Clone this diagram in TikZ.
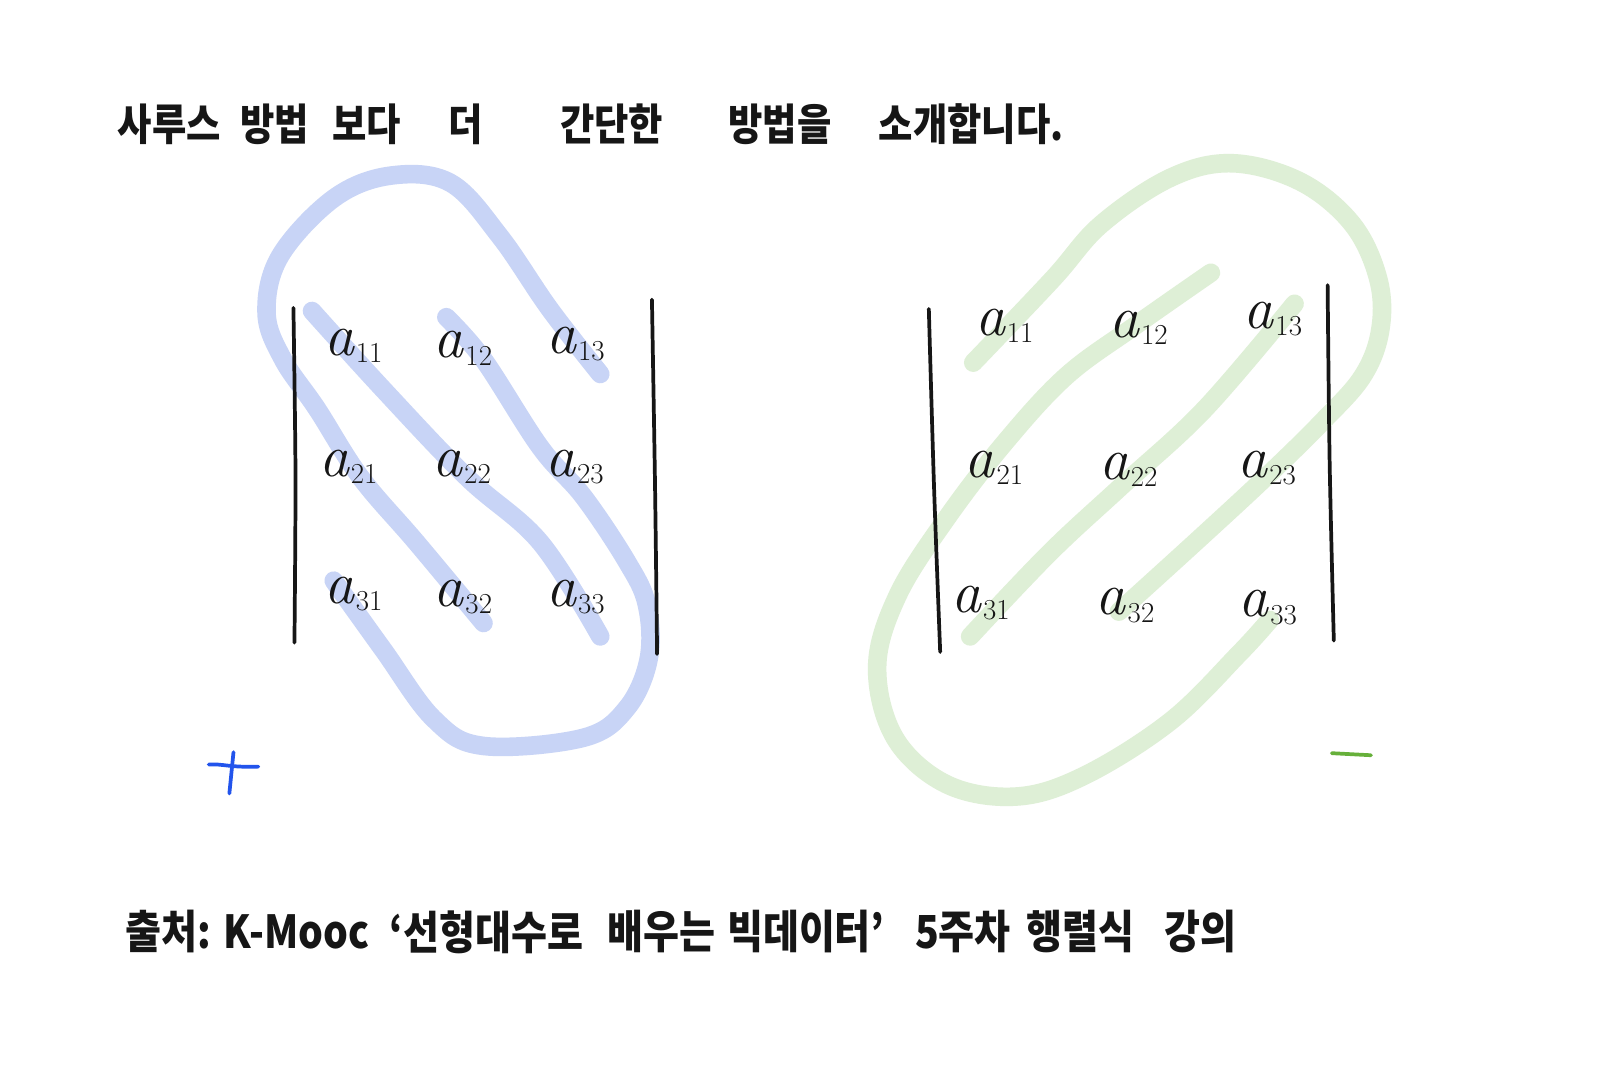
\documentclass[tikz,border=0pt]{standalone}
\usepackage{fontspec}
\newfontfamily\kr[FakeStretch=0.86]{Noto Sans CJK KR}
\definecolor{ink}{RGB}{22,22,22}
\definecolor{hlb}{RGB}{200,212,246}
\definecolor{hlg}{RGB}{222,239,214}
\definecolor{plusblue}{RGB}{34,84,236}
\definecolor{minusgreen}{RGB}{102,176,58}
\newcommand{\ent}[1]{\fontsize{58}{60}\selectfont\textit{a}\kern1pt\raisebox{-7pt}{\fontsize{28}{30}\selectfont #1}}
\tikzset{
  hlblue/.style={draw=hlb, line width=18pt, line cap=round, line join=round},
  hlgreen/.style={draw=hlg, line width=18pt, line cap=round, line join=round},
  bar/.style={draw=ink, line width=3.6pt, line cap=round},
  entry/.style={text=ink, inner sep=0pt},
  krtext/.style={text=ink, inner sep=0pt, font=\kr\bfseries\fontsize{42}{46}\selectfont},
  krbottom/.style={text=ink, inner sep=0pt, font=\kr\bfseries\fontsize{44}{48}\selectfont},
}
\begin{document}
\begin{tikzpicture}[x=1pt,y=-1pt]
\useasboundingbox (0,0) rectangle (1568,1045);
\fill[white] (0,0) rectangle (1568,1045);

% ---------- top title ----------
\node[krtext] (t1) at (164,120) {사루스};
\node[krtext] (t2) at (266,120) {방법};
\node[krtext] (t3) at (355,120) {보다};
\node[krtext] (t4) at (451,120) {더};
\node[krtext] (t5) at (592,120) {간단한};
\node[krtext] (t6) at (755,120) {방법을};
\node[krtext] (t7) at (940,120) {소개합니다.};

% ---------- blue highlights (left) ----------
\draw[hlblue] plot[smooth, tension=0.6] coordinates {(302,301) (371,377) (452,462) (523,525) (581,616)};
\draw[hlblue] plot[smooth, tension=0.6] coordinates {(432,307) (468,348) (523,433) (565,481) (607,544) (626,585) (628,637) (607,685) (565,714) (468,722) (420,696) (371,629) (323,562)};
\draw[hlblue] plot[smooth, tension=0.6] coordinates {(581,362) (532,299) (484,229) (436,177) (378,170) (323,192) (271,248) (258,303) (274,348) (307,396) (349,462) (403,525) (468,603)};

% ---------- green highlights (right) ----------
\draw[hlgreen] plot[smooth, tension=0.6] coordinates {(939,616) (1016,535) (1086,470) (1166,396) (1253,294)};
\draw[hlgreen] plot[smooth, tension=0.6] coordinates {(942,351) (1019,270) (1066,217) (1133,172) (1193,158) (1259,176) (1309,217) (1334,270) (1336,319) (1319,364) (1279,409) (1226,461) (1159,523) (1083,592)};
\draw[hlgreen] plot[smooth, tension=0.6] coordinates {(1172,264) (1099,315) (1032,364) (972,429) (916,502) (869,576) (849,645) (866,714) (916,759) (983,771) (1049,751) (1133,698) (1199,633) (1229,600)};

% ---------- left determinant ----------
\coordinate (lbt) at (284,298);
\coordinate (lbm) at (286,460);
\coordinate (lbb) at (285,622);
\coordinate (rbt) at (631,290);
\coordinate (rbm) at (634,470);
\coordinate (rbb) at (636,633);
\draw[bar] plot[smooth] coordinates {(lbt) (lbm) (lbb)};
\draw[bar] plot[smooth] coordinates {(rbt) (rbm) (rbb)};
\node[entry] (L11) at (342,335) {\ent{11}};
\node[entry] (L12) at (448,337) {\ent{12}};
\node[entry] (L13) at (557,333) {\ent{13}};
\node[entry] (L21) at (337,452) {\ent{21}};
\node[entry] (L22) at (447,452) {\ent{22}};
\node[entry] (L23) at (556,452) {\ent{23}};
\node[entry] (L31) at (342,575) {\ent{31}};
\node[entry] (L32) at (448,578) {\ent{32}};
\node[entry] (L33) at (557,578) {\ent{33}};

% ---------- right determinant ----------
\coordinate (Rlbt) at (899,299);
\coordinate (Rlbm) at (904,470);
\coordinate (Rlbb) at (910,631);
\coordinate (Rrbt) at (1285,276);
\coordinate (Rrbm) at (1287,450);
\coordinate (Rrbb) at (1291,620);
\draw[bar] plot[smooth] coordinates {(Rlbt) (Rlbm) (Rlbb)};
\draw[bar] plot[smooth] coordinates {(Rrbt) (Rrbm) (Rrbb)};
\node[entry] (R11) at (972,315) {\ent{11}};
\node[entry] (R12) at (1102,317) {\ent{12}};
\node[entry] (R13) at (1232,309) {\ent{13}};
\node[entry] (R21) at (962,453) {\ent{21}};
\node[entry] (R22) at (1092,455) {\ent{22}};
\node[entry] (R23) at (1226,453) {\ent{23}};
\node[entry] (R31) at (949,584) {\ent{31}};
\node[entry] (R32) at (1089,586) {\ent{32}};
\node[entry] (R33) at (1227,588) {\ent{33}};

% ---------- signs ----------
\coordinate (ph1) at (202,740);
\coordinate (ph2) at (250,742);
\coordinate (pv1) at (226,728);
\coordinate (pv2) at (222,768);
\draw[plusblue, line width=3.6pt, line cap=round] (ph1) .. controls (215,739) and (222,743) .. (ph2);
\draw[plusblue, line width=3.6pt, line cap=round] (pv1) -- (pv2);
\coordinate (m1) at (1289,729);
\coordinate (m2) at (1327,731);
\draw[minusgreen, line width=3.6pt, line cap=round] (m1) -- (m2);

% ---------- source line ----------
\node[krbottom] (b1) at (163,902) {출처:};
\node[krbottom] (b2) at (287,902) {K-Mooc};
\node[krbottom] (b3) at (471,902) {‘선형대수로};
\node[krbottom] (b4) at (640,902) {배우는};
\node[krbottom] (b5) at (780,902) {빅데이터’};
\node[krbottom] (b6) at (932,902) {5주차};
\node[krbottom] (b7) at (1046,902) {행렬식};
\node[krbottom] (b8) at (1162,902) {강의};
\end{tikzpicture}
\end{document}
